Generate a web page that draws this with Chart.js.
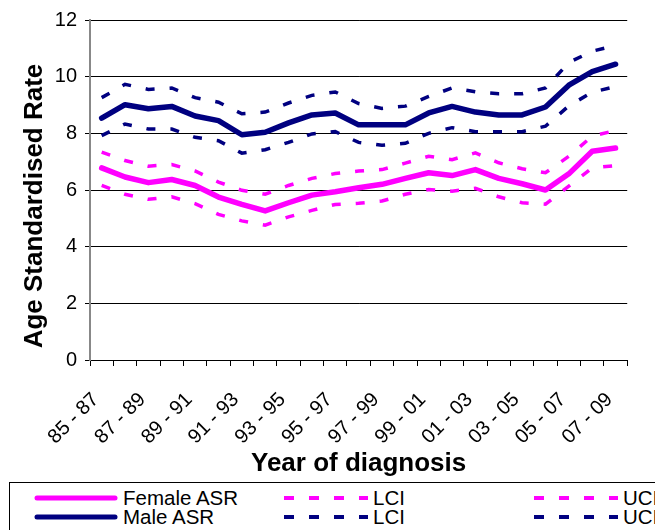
<!DOCTYPE html>
<html>
<head>
<meta charset="utf-8">
<script src="https://cdn.jsdelivr.net/npm/chart.js@4"></script>
<style>
  body { margin: 0; background: #fff; font-family: "Liberation Sans", Arial, sans-serif; }
  #wrap { position: relative; width: 655px; height: 530px; overflow: hidden; }
  #box { position: absolute; left: 0; top: 0; width: 655px; height: 482px; }
  #legend { position: absolute; left: 9px; top: 482px; width: 700px; height: 60px; border: 1px solid #000; box-sizing: border-box; }
  .item { position: absolute; height: 20px; line-height: 20px; font-size: 20.5px; color: #000; }
  .item svg { position: absolute; left: 0; top: 0; }
  .item span { position: absolute; top: 0; white-space: nowrap; }
</style>
</head>
<body>
<div id="wrap">
  <div id="box"><canvas id="rateChart"></canvas></div>
  <div id="legend"></div>
</div>
<script>
// three-year diagnosis periods
const periods = ["85 - 87", "86 - 88", "87 - 89", "88 - 90", "89 - 91", "90 - 92", "91 - 93", "92 - 94",
                 "93 - 95", "94 - 96", "95 - 97", "96 - 98", "97 - 99", "98 - 00", "99 - 01", "00 - 02",
                 "01 - 03", "02 - 04", "03 - 05", "04 - 06", "05 - 07", "06 - 08", "07 - 09"];

const femaleASR = [6.78, 6.46, 6.26, 6.37, 6.16, 5.75, 5.49, 5.26, 5.55, 5.82, 5.94, 6.08,
                   6.20, 6.41, 6.61, 6.51, 6.72, 6.41, 6.22, 6.00, 6.57, 7.37, 7.48];
const femaleLCI = [6.16, 5.85, 5.67, 5.76, 5.52, 5.14, 4.91, 4.76, 5.05, 5.28, 5.49, 5.53,
                   5.61, 5.85, 6.02, 5.96, 6.06, 5.76, 5.55, 5.50, 6.14, 6.78, 6.86];
const femaleUCI = [7.34, 7.04, 6.84, 6.90, 6.67, 6.28, 5.99, 5.85, 6.16, 6.41, 6.58, 6.67,
                   6.72, 6.95, 7.19, 7.07, 7.31, 6.96, 6.75, 6.61, 7.19, 7.90, 8.10];
const maleASR = [8.54, 9.01, 8.87, 8.95, 8.61, 8.45, 7.95, 8.04, 8.37, 8.65, 8.72, 8.30,
                 8.30, 8.30, 8.72, 8.95, 8.75, 8.65, 8.65, 8.93, 9.70, 10.18, 10.44];
const maleLCI = [7.92, 8.33, 8.15, 8.15, 7.86, 7.74, 7.30, 7.42, 7.68, 7.98, 8.06, 7.68,
                 7.58, 7.65, 8.00, 8.20, 8.06, 8.06, 8.06, 8.25, 8.97, 9.45, 9.65];
const maleUCI = [9.26, 9.73, 9.55, 9.60, 9.26, 9.10, 8.69, 8.75, 9.07, 9.34, 9.46, 9.05,
                 8.88, 8.96, 9.30, 9.60, 9.47, 9.40, 9.40, 9.60, 10.50, 10.90, 11.10];

const yTicks = [0, 2, 4, 6, 8, 10, 12];

const PINK = "#FF00FF";
const NAVY = "#000080";
const DASH = [9, 15];

function solid(label, data, color) {
    return { label: label, data: data, borderColor: color, backgroundColor: color,
             borderWidth: 5.5, pointRadius: 0, tension: 0, borderCapStyle: "round", borderJoinStyle: "round" };
}
function dashed(label, data, color) {
    return { label: label, data: data, borderColor: color, backgroundColor: color,
             borderWidth: 3.5, borderDash: DASH, pointRadius: 0, tension: 0 };
}

// y axis title, placed a bit lower than the axis centre like the original
const yTitle = {
    id: "yTitle",
    afterDraw: function (chart) {
        const c = chart.ctx;
        c.save();
        c.translate(35, 206);
        c.rotate(-Math.PI / 2);
        c.font = "bold 26px 'Liberation Sans'";
        c.fillStyle = "#000";
        c.textAlign = "center";
        c.textBaseline = "middle";
        c.fillText("Age Standardised Rate", 0, 0);
        c.restore();
    }
};

const ctx = document.getElementById("rateChart").getContext("2d");
new Chart(ctx, {
    type: "line",
    data: {
        labels: periods,
        datasets: [
            dashed("LCI", femaleLCI, PINK),
            dashed("UCI", femaleUCI, PINK),
            dashed("LCI", maleLCI, NAVY),
            dashed("UCI", maleUCI, NAVY),
            solid("Female ASR", femaleASR, PINK),
            solid("Male ASR", maleASR, NAVY)
        ]
    },
    plugins: [yTitle],
    options: {
        responsive: true,
        maintainAspectRatio: false,
        animation: false,
        layout: { padding: { top: 15, right: 22, left: 0, bottom: 0 } },
        plugins: { legend: { display: false }, tooltip: { enabled: false } },
        scales: {
            x: {
                offset: true,
                grid: { offset: true, drawOnChartArea: false, drawTicks: true, tickLength: 6, color: "#000" },
                border: { color: "#000", width: 1 },
                ticks: {
                    autoSkip: false, minRotation: 45, maxRotation: 45,
                    padding: 22, labelOffset: -6,
                    color: "#000", font: { family: "Liberation Sans", size: 20 },
                    callback: function (val, i) { return i % 2 === 0 ? periods[i] : ""; }
                },
                title: {
                    display: true, text: "Year of diagnosis", color: "#000",
                    font: { family: "Liberation Sans", size: 26, weight: "bold" },
                    padding: { top: 0, bottom: 3 }
                },
                afterFit: function (s) { s.height = 122; }
            },
            y: {
                min: 0, max: 12,
                afterBuildTicks: function (s) { s.ticks = yTicks.map(v => ({ value: v })); },
                grid: { color: "#000", lineWidth: 1, tickLength: 5 },
                border: { color: "#888", width: 2 },
                ticks: { color: "#000", font: { family: "Liberation Sans", size: 20 }, padding: 8 },
                afterFit: function (s) { s.width = 90; }
            }
        }
    }
});

// legend below the chart, Excel style
const legendItems = [
    { text: "Female ASR", color: PINK, dash: false, x: 24, y: 5 },
    { text: "Male ASR", color: NAVY, dash: false, x: 24, y: 24 },
    { text: "LCI", color: PINK, dash: true, x: 274, y: 5 },
    { text: "LCI", color: NAVY, dash: true, x: 274, y: 24 },
    { text: "UCI", color: PINK, dash: true, x: 524, y: 5 },
    { text: "UCI", color: NAVY, dash: true, x: 524, y: 24 }
];
const legend = document.getElementById("legend");
legendItems.forEach(function (it) {
    const d = document.createElement("div");
    d.className = "item";
    d.style.left = it.x + "px";
    d.style.top = it.y + "px";
    const line = it.dash
        ? '<line x1="0" y1="10" x2="84" y2="10" stroke="' + it.color + '" stroke-width="4" stroke-dasharray="10 15"/>'
        : '<line x1="3" y1="10" x2="81" y2="10" stroke="' + it.color + '" stroke-width="5" stroke-linecap="round"/>';
    d.innerHTML = '<svg width="90" height="20">' + line + '</svg><span style="left:89px">' + it.text + '</span>';
    legend.appendChild(d);
});
</script>
</body>
</html>
